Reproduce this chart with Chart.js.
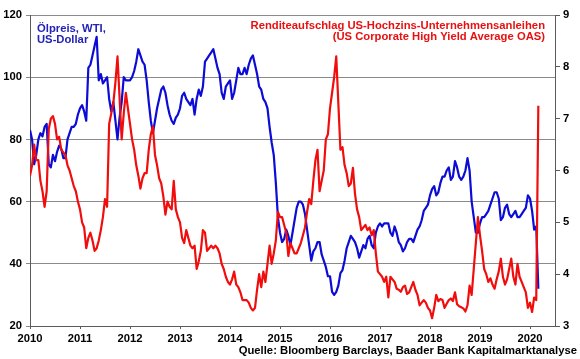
<!DOCTYPE html>
<html>
<head>
<meta charset="utf-8">
<script src="https://cdn.jsdelivr.net/npm/chart.js@4.4.1/dist/chart.umd.min.js"></script>
<style>
  html, body { margin: 0; padding: 0; background: #ffffff; }
  #wrap { width: 580px; height: 359px; }
</style>
</head>
<body>
<div id="wrap"><canvas id="c" width="580" height="359"></canvas></div>
<script>
// ---- Data (semi-monthly observations: 1st and 15th of each month, Jan 2010 .. Mar 2020) ----
const startYear = 2010;
const obsPerYear = 24;

// WTI oil price, USD (left axis)
const oilPrice = [
  // 2010
  83, 80, 72, 75, 80, 82, 81, 84, 85, 72, 71, 75, 73, 76, 78, 77, 74, 74, 80, 82, 84, 84, 85, 88,
  // 2011
  90, 91, 89, 86, 103, 104, 107, 110, 113, 99, 101, 98, 99, 100, 93, 89, 92, 86, 80, 87, 92, 100, 99, 99,
  // 2012
  99, 100, 102, 105, 109, 107, 105, 104, 99, 92, 86, 82, 86, 90, 93, 96, 97, 95, 91, 88, 86, 85, 87, 88,
  // 2013
  90, 94, 95, 93, 92, 91, 93, 88, 93, 96, 94, 97, 105, 106, 107, 108, 109, 106, 103, 101, 95, 93, 97, 98,
  // 2014
  99, 93, 95, 99, 103, 101, 101, 103, 101, 104, 106, 107, 104, 101, 97, 96, 93, 92, 90, 84, 79, 75, 66, 55,
  // 2015
  50, 47, 48, 51, 49, 46, 50, 54, 58, 60, 60, 59, 56, 51, 46, 41, 44, 45, 47, 47, 43, 41, 39, 36,
  // 2016
  36, 31, 30, 31, 33, 37, 38, 41, 45, 47, 49, 48, 47, 45, 42, 44, 46, 45, 48, 49, 46, 45, 50, 52,
  // 2017
  53, 52, 53, 53, 53, 50, 49, 52, 50, 47, 46, 44, 45, 47, 48, 48, 47, 49, 51, 52, 54, 57, 58, 59,
  // 2018
  62, 64, 65, 62, 63, 66, 68, 68, 70, 71, 67, 68, 73, 71, 68, 67, 68, 70, 74, 70, 60, 55, 50, 50,
  // 2019
  53, 55, 55, 56, 57, 59, 61, 63, 63, 61, 54, 55, 58, 59, 56, 55, 56, 57, 55, 55, 56, 57, 58, 62,
  // 2020
  61, 57, 51, 52, 32
];

// US Corporate High Yield Average OAS, % (right axis)
const hySpread = [
  // 2010
  5.9, 6.1, 6.5, 6.2, 6.2, 5.8, 5.6, 5.3, 5.6, 6.8, 7.0, 7.05, 6.9, 6.6, 6.65, 6.4, 6.35, 6.3, 6.1, 6.0, 5.85, 5.7, 5.6, 5.4,
  // 2011
  5.25, 5.0, 4.9, 4.5, 4.7, 4.8, 4.65, 4.45, 4.5, 4.65, 4.85, 5.1, 5.45, 5.3, 6.9, 7.1, 7.3, 7.7, 8.2, 7.4, 6.6, 7.1, 7.5, 7.2,
  // 2012
  6.9, 6.6, 6.4, 6.1, 5.9, 5.65, 5.85, 5.95, 5.95, 6.4, 6.7, 6.85, 6.3, 6.1, 5.85, 5.75, 5.5, 5.15, 5.4, 5.3, 5.25, 5.8, 5.25, 5.1,
  // 2013
  5.0, 4.7, 4.6, 4.85, 4.7, 4.55, 4.5, 4.55, 4.1, 4.25, 4.45, 4.85, 4.8, 4.45, 4.5, 4.55, 4.5, 4.55, 4.5, 4.4, 4.2, 4.1, 3.95, 3.85,
  // 2014
  3.8, 3.9, 4.05, 3.8, 3.75, 3.65, 3.5, 3.5, 3.5, 3.45, 3.35, 3.3, 3.35, 3.7, 4.0, 3.75, 4.05, 3.85, 4.2, 4.55, 4.2, 4.4, 4.65, 5.2,
  // 2015
  5.1, 5.1, 4.95, 4.8, 4.35, 4.6, 4.5, 4.4, 4.4, 4.5, 4.6, 4.75, 4.9, 5.2, 5.45, 5.35, 5.8, 6.2, 6.4, 5.6, 5.8, 6.0, 6.6, 6.7,
  // 2016
  7.2, 7.5, 7.8, 8.2, 7.3, 6.4, 6.45, 6.1, 5.95, 5.7, 5.75, 6.05, 5.55, 5.25, 5.1, 4.85, 4.9, 4.95, 4.85, 4.9, 4.75, 4.85, 4.4, 4.05,
  // 2017
  4.0, 3.95, 3.85, 3.95, 3.55, 3.95, 3.9, 3.85, 3.72, 3.7, 3.66, 3.75, 3.78, 3.62, 3.65, 3.75, 3.85, 3.7, 3.6, 3.4, 3.45, 3.5, 3.45, 3.35,
  // 2018
  3.3, 3.15, 3.35, 3.6, 3.48, 3.52, 3.5, 3.35, 3.43, 3.5, 3.53, 3.48, 3.65, 3.42, 3.38, 3.36, 3.34, 3.28, 3.4, 3.78, 3.6, 4.1, 4.6, 5.1,
  // 2019
  4.75, 4.45, 4.1, 4.0, 3.85, 3.92, 3.8, 3.72, 3.9, 4.05, 4.3, 3.95, 3.8, 3.9, 4.1, 4.3, 3.95, 3.8, 4.2, 3.95, 3.85, 3.75, 3.65, 3.35,
  // 2020
  3.45, 3.27, 3.55, 3.5, 7.25
];

// Tick labels
const xTickYears = [2010, 2011, 2012, 2013, 2014, 2015, 2016, 2017, 2018, 2019, 2020];
const leftTicks = [20, 40, 60, 80, 100, 120];
const rightTicks = [3, 4, 5, 6, 7, 8, 9];

// Texts
const oilLabel = ["Ölpreis, WTI,", "US-Dollar"];
const spreadLabel = ["Renditeaufschlag US-Hochzins-Unternehmensanleihen", "(US Corporate High Yield Average OAS)"];
const sourceLabel = "Quelle: Bloomberg Barclays, Baader Bank Kapitalmarktanalyse";

// ---- Styling ----
const FONT = '"Liberation Sans", Arial, Helvetica, sans-serif';
const BLUE = '#0c0cd6';
const RED = '#f20d0d';
const BLUE_TXT = '#2323b8';
const RED_TXT = '#e81010';
const GRID = '#8a8a8a';
const AXIS = '#5a5a5a';
const tickFont = { family: FONT, size: 11.25, weight: 'bold' };

const toPoints = vals => vals.map((v, i) => ({ x: startYear + i / obsPerYear, y: v }));

const textPlugin = {
  id: 'texts',
  afterDraw(chart) {
    const ctx = chart.ctx;
    ctx.save();
    ctx.font = 'bold 11.25px ' + FONT;
    ctx.textBaseline = 'alphabetic';
    ctx.fillStyle = BLUE_TXT;
    ctx.textAlign = 'left';
    ctx.fillText(oilLabel[0], 37, 31.5);
    ctx.fillText(oilLabel[1], 37, 43);
    ctx.fillStyle = RED_TXT;
    ctx.textAlign = 'right';
    ctx.fillText(spreadLabel[0], 545, 28.7);
    ctx.fillText(spreadLabel[1], 545, 40.3);
    ctx.fillStyle = '#000000';
    ctx.fillText(sourceLabel, 577, 354);
    ctx.restore();
  }
};

new Chart(document.getElementById('c'), {
  type: 'line',
  data: {
    datasets: [
      {
        label: 'HY OAS',
        data: toPoints(hySpread),
        yAxisID: 'y2',
        borderColor: RED,
        borderWidth: 2.2,
        pointRadius: 0,
        tension: 0,
        borderJoinStyle: 'round',
        fill: false
      },
      {
        label: 'WTI',
        data: toPoints(oilPrice),
        yAxisID: 'y',
        borderColor: BLUE,
        borderWidth: 2.2,
        pointRadius: 0,
        tension: 0,
        borderJoinStyle: 'round',
        fill: false
      }
    ]
  },
  options: {
    responsive: false,
    animation: false,
    devicePixelRatio: 1,
    parsing: true,
    layout: { padding: { top: 15, left: 0, right: 0, bottom: 0 } },
    plugins: {
      legend: { display: false },
      tooltip: { enabled: false },
      title: { display: false }
    },
    scales: {
      x: {
        type: 'linear',
        position: 'bottom',
        min: 2010,
        max: 2020.5,
        afterBuildTicks: s => { s.ticks = xTickYears.map(v => ({ value: v })); },
        afterFit: s => { s.height = 33; },
        ticks: {
          font: tickFont,
          color: '#000000',
          padding: 3,
          maxRotation: 0,
          autoSkip: false,
          callback: v => String(v)
        },
        grid: { drawOnChartArea: false, drawTicks: true, tickLength: 3, color: AXIS },
        border: { color: AXIS, width: 1 }
      },
      y: {
        type: 'linear',
        position: 'left',
        min: 20,
        max: 120,
        afterBuildTicks: s => { s.ticks = leftTicks.map(v => ({ value: v })); },
        afterFit: s => { s.width = 30; },
        ticks: { font: tickFont, color: '#000000', padding: 4 },
        grid: { color: GRID, lineWidth: 1, tickLength: 4, drawTicks: true },
        border: { color: AXIS, width: 1 }
      },
      y2: {
        type: 'linear',
        position: 'right',
        min: 3,
        max: 9,
        afterBuildTicks: s => { s.ticks = rightTicks.map(v => ({ value: v })); },
        afterFit: s => { s.width = 25; },
        ticks: { font: tickFont, color: '#000000', padding: 3 },
        grid: { drawOnChartArea: false, drawTicks: true, tickLength: 5, color: AXIS },
        border: { color: AXIS, width: 1 }
      }
    }
  },
  plugins: [textPlugin]
});
</script>
</body>
</html>
